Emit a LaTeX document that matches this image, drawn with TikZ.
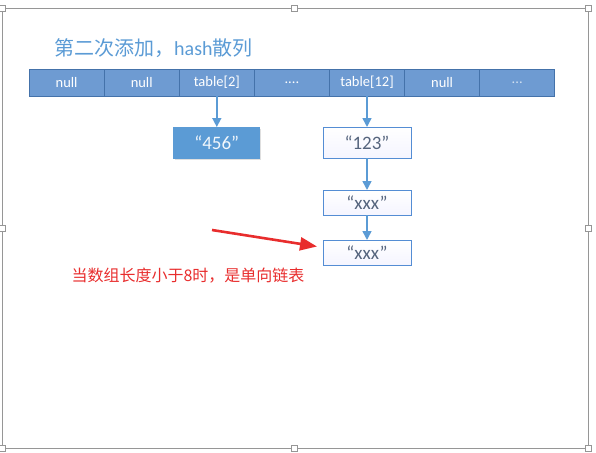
\documentclass[tikz,border=0pt]{standalone}
\usepackage{fontspec}
\setmainfont{Carlito}
\newfontfamily\cjk{Noto Sans CJK SC}
\usetikzlibrary{positioning,arrows.meta,shadows}

\definecolor{titleblue}{RGB}{91,155,213}
\definecolor{cellblue}{RGB}{110,155,210}
\definecolor{celledge}{RGB}{68,114,170}
\definecolor{nodeedge}{RGB}{84,141,212}
\definecolor{nodetext}{RGB}{85,100,125}
\definecolor{notered}{RGB}{232,45,45}
\definecolor{framegray}{RGB}{150,150,150}

\tikzset{
  cell/.style={
    draw=celledge,
    fill=cellblue,
    line width=1pt,
    minimum width=75.1pt,
    minimum height=27pt,
    inner sep=0pt,
    outer sep=0pt,
    text=white,
    font=\fontsize{14.5}{16}\selectfont
  },
  entry/.style={
    draw=nodeedge,
    line width=0.8pt,
    top color=white,
    bottom color=blue!4,
    minimum width=88pt,
    minimum height=25pt,
    inner sep=0pt,
    outer sep=0pt,
    text=nodetext,
    font=\fontsize{19}{21}\selectfont
  },
  fullentry/.style={
    fill=titleblue,
    draw=titleblue,
    line width=0.8pt,
    minimum width=86pt,
    minimum height=31pt,
    inner sep=0pt,
    outer sep=0pt,
    text=white!92!titleblue,
    font=\fontsize{19}{21}\selectfont,
    drop shadow={shadow xshift=1pt,shadow yshift=-1.5pt,opacity=0.25}
  },
  link/.style={
    draw=titleblue,
    line width=1.5pt,
    -{Triangle[length=9pt,width=9pt]}
  },
  handle/.style={
    draw=framegray,
    fill=white,
    line width=0.6pt,
    minimum size=6pt,
    inner sep=0pt
  }
}

\begin{document}
\begin{tikzpicture}[x=1pt,y=-1pt]
    \useasboundingbox (0,0) rectangle (596,452);

    % 框
    \draw[framegray,line width=0.8pt] (2,8) rectangle (588,448);
    \foreach \hx/\hy [count=\k] in {2/8,294/8,588/8,2/228,588/228,2/448,294/448,588/448}
        \node[handle] (h\k) at (\hx,\hy) {};

    % 标题
    \node[anchor=west,inner sep=0pt,text=titleblue,font=\fontsize{20}{24}\selectfont]
        (title) at (54,48.5) {{\cjk 第二次添加，}hash{\cjk 散列}};

    % 数组
    \node[cell] (c1) at (66.6,82.5) {null};
    \node[cell,right=0pt of c1] (c2) {null};
    \node[cell,right=0pt of c2] (c3) {table[2]};
    \node[cell,right=0pt of c3] (c4) {....};
    \node[cell,right=0pt of c4] (c5) {table[12]};
    \node[cell,right=0pt of c5] (c6) {null};
    \node[cell,right=0pt of c6,text=white!70!cellblue] (c7) {...};

    % 链表
    \node[fullentry,below=31pt of c3] (v456) {“456”};
    \node[entry,below=31pt of c5,minimum height=31pt] (v123) {“123”};
    \node[entry,below=32pt of v123] (xxxa) {“xxx”};
    \node[entry,below=25pt of xxxa] (xxxb) {“xxx”};

    \draw[link] (c3) -- (v456);
    \draw[link] (c5) -- (v123);
    \draw[link] (v123) -- (xxxa);
    \draw[link] (xxxa) -- (xxxb);

    % 注释
    \coordinate (tail) at (212,230);
    \draw[notered,line width=2.6pt,-{Triangle[length=17pt,width=13pt]}]
        (tail) -- ([xshift=-6pt,yshift=6pt]xxxb.west);
    \node[text=notered,font=\cjk\fontsize{16}{18}\selectfont]
        (note) at (188,276) {当数组长度小于8时，是单向链表};
\end{tikzpicture}
\end{document}
